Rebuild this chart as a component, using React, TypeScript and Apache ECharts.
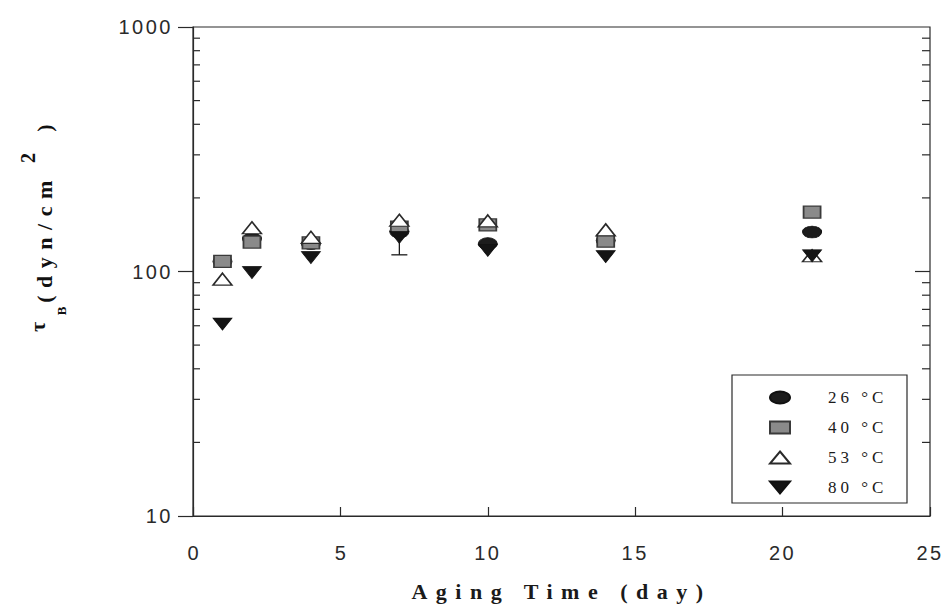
import React, { useEffect, useRef } from "react";
import * as echarts from "echarts";

// ---- data ----
const days = [1, 2, 4, 7, 10, 14, 21];
const tau26 = [110, 136, 130, 145, 130, 134, 145];
const tau40 = [110, 132, 131, 152, 155, 133, 175];
const tau53 = [93, 151, 138, 162, 161, 148, 116];
const tau80 = [61, 99, 114, 138, 122, 115, 116];
// error bar (80 °C, day 7): [day, value, lower]
const errorBars = [[7, 138, 117]];

const seriesNames = ["26 °C", "40 °C", "53 °C", "80 °C"];
const xMin = 0;
const xMax = 25;
const xInterval = 5;
const yMin = 10;
const yMax = 1000;
const minorTickValues = [20, 30, 40, 50, 60, 70, 80, 90, 200, 300, 400, 500, 600, 700, 800, 900];
const rightMajorValues = [100];

const ELLIPSE = "path://M0,6 A10,6 0 1,0 20,6 A10,6 0 1,0 0,6 Z";
const DOWN_TRI = "path://M0,0 L20,0 L10,12 Z";
const UP_TRI = "path://M10,0 L20,12 L0,12 Z";

const AXIS_COLOR = "#2a2a2a";

export default function App() {
  const ref = useRef<HTMLDivElement>(null);

  useEffect(() => {
    const el = ref.current!;
    document.body.style.margin = "0";
    const chart = echarts.init(el, undefined, { renderer: "svg" });

    const zip = (ys: number[]) => days.map((d, i) => [d, ys[i]]);

    const option: any = {
      animation: false,
      backgroundColor: "#ffffff",
      grid: {
        left: 193,
        top: 27,
        right: 18,
        bottom: 94,
        show: true,
        borderColor: AXIS_COLOR,
        borderWidth: 1.2,
        backgroundColor: "transparent",
      },
      xAxis: {
        type: "value",
        min: xMin,
        max: xMax,
        interval: xInterval,
        name: "Aging Time (day)",
        nameLocation: "middle",
        nameGap: 64,
        nameTextStyle: {
          fontFamily: "Liberation Serif",
          fontWeight: "bold",
          fontSize: 22,
          color: "#1a1a1a",
        },
        axisLine: { show: true, lineStyle: { color: AXIS_COLOR, width: 1.2 } },
        axisTick: { show: true, inside: true, length: 9, lineStyle: { color: AXIS_COLOR, width: 1.2 } },
        axisLabel: {
          margin: 27,
          fontFamily: "Liberation Sans",
          fontSize: 20,
          color: "#2a2a2a",
        },
        splitLine: { show: false },
      },
      yAxis: {
        type: "log",
        logBase: 10,
        min: yMin,
        max: yMax,
        axisLine: { show: true, lineStyle: { color: AXIS_COLOR, width: 1.2 } },
        axisTick: { show: true, inside: false, length: 15, lineStyle: { color: AXIS_COLOR, width: 1.2 } },
        minorTick: { show: false },
        axisLabel: {
          margin: 20,
          fontFamily: "Liberation Sans",
          fontSize: 20,
          color: "#2a2a2a",
          formatter: (v: number) => String(Math.round(v)),
        },
        splitLine: { show: false },
      },
      legend: {
        orient: "vertical",
        left: 769,
        top: 389,
        padding: 0,
        itemWidth: 20,
        itemHeight: 12,
        itemGap: 13,
        symbolKeepAspect: false,
        selectedMode: false,
        textStyle: {
          fontFamily: "Liberation Serif",
          fontSize: 17,
          color: "#1a1a1a",
          lineHeight: 16,
          padding: [0, 0, 0, 33],
        },
        data: [
          { name: seriesNames[0], icon: ELLIPSE },
          { name: seriesNames[1], icon: "rect" },
          { name: seriesNames[2], icon: UP_TRI },
          { name: seriesNames[3], icon: DOWN_TRI },
        ],
      },
      graphic: [
        {
          type: "rect",
          silent: true,
          shape: { x: 732, y: 375, width: 175, height: 128 },
          style: { fill: "none", stroke: AXIS_COLOR, lineWidth: 1.2 },
          z: 10,
        },
        {
          type: "text",
          x: 37,
          y: 327,
          rotation: Math.PI / 2,
          style: { text: "τ", fontFamily: "Liberation Serif", fontSize: 22, fontWeight: "bold", fill: "#111111", align: "center", verticalAlign: "middle" },
        },
        {
          type: "text",
          x: 61,
          y: 311,
          rotation: Math.PI / 2,
          style: { text: "B", fontFamily: "Liberation Serif", fontSize: 13, fontWeight: "bold", fill: "#111111", align: "center", verticalAlign: "middle" },
        },
        {
          type: "text",
          x: 44,
          y: 238,
          rotation: Math.PI / 2,
          style: { text: "(dyn/cm", fontFamily: "Liberation Serif", fontSize: 22, fontWeight: "bold", fill: "#111111", align: "center", verticalAlign: "middle" },
        },
        {
          type: "text",
          x: 28,
          y: 158,
          rotation: Math.PI / 2,
          style: { text: "2", fontFamily: "Liberation Serif", fontSize: 20, fontWeight: "bold", fill: "#111111", align: "center", verticalAlign: "middle" },
        },
        {
          type: "text",
          x: 44,
          y: 128,
          rotation: Math.PI / 2,
          style: { text: ")", fontFamily: "Liberation Serif", fontSize: 22, fontWeight: "bold", fill: "#111111", align: "center", verticalAlign: "middle" },
        },
      ],
      series: [
        {
          type: "custom",
          name: "minorTicks",
          silent: true,
          z: 1,
          data: minorTickValues.map((v) => [xMin, v]),
          renderItem: (params: any, api: any) => {
            const v = api.value(1);
            const pl = api.coord([xMin, v]);
            const pr = api.coord([xMax, v]);
            const st = { stroke: AXIS_COLOR, lineWidth: 1.2 };
            return {
              type: "group",
              children: [
                { type: "line", shape: { x1: pl[0], y1: pl[1], x2: pl[0] + 7, y2: pl[1] }, style: st },
                { type: "line", shape: { x1: pr[0], y1: pr[1], x2: pr[0] - 8, y2: pr[1] }, style: st },
              ],
            };
          },
        },
        {
          type: "custom",
          name: "rightMajor",
          silent: true,
          z: 1,
          data: rightMajorValues.map((v) => [xMax, v]),
          renderItem: (params: any, api: any) => {
            const v = api.value(1);
            const pr = api.coord([xMax, v]);
            return {
              type: "line",
              shape: { x1: pr[0], y1: pr[1], x2: pr[0] - 15, y2: pr[1] },
              style: { stroke: AXIS_COLOR, lineWidth: 1.2 },
            };
          },
        },
        {
          type: "custom",
          name: "errorBars",
          silent: true,
          z: 1,
          data: errorBars,
          renderItem: (params: any, api: any) => {
            const x = api.value(0);
            const p1 = api.coord([x, api.value(1)]);
            const p2 = api.coord([x, api.value(2)]);
            const st = { stroke: "#1a1a1a", lineWidth: 1.3 };
            return {
              type: "group",
              children: [
                { type: "line", shape: { x1: p1[0], y1: p1[1], x2: p2[0], y2: p2[1] }, style: st },
                { type: "line", shape: { x1: p2[0] - 8, y1: p2[1], x2: p2[0] + 8, y2: p2[1] }, style: st },
              ],
            };
          },
        },
        {
          type: "scatter",
          name: seriesNames[0],
          z: 2,
          symbol: ELLIPSE,
          symbolSize: [19, 12],
          itemStyle: { color: "#1c1c1c", borderColor: "#111", borderWidth: 0.8, opacity: 1 },
          data: zip(tau26),
        },
        {
          type: "scatter",
          name: seriesNames[1],
          z: 3,
          symbol: "rect",
          symbolSize: [17, 12],
          itemStyle: { color: "#8a8a8a", borderColor: "#3a3a3a", borderWidth: 1.5, opacity: 1 },
          data: zip(tau40),
        },
        {
          type: "scatter",
          name: seriesNames[2],
          z: 4,
          symbol: UP_TRI,
          symbolSize: [19, 12],
          itemStyle: { color: "#ffffff", borderColor: "#2a2a2a", borderWidth: 1.5, opacity: 1 },
          data: zip(tau53),
        },
        {
          type: "scatter",
          name: seriesNames[3],
          z: 5,
          symbol: DOWN_TRI,
          symbolSize: [19, 12],
          itemStyle: { color: "#141414", borderColor: "#111", borderWidth: 0.8, opacity: 1 },
          data: zip(tau80),
        },
      ],
    };

    chart.setOption(option);

    const applySpacing = () => {
      const texts = el.querySelectorAll("text");
      texts.forEach((t) => {
        const s = (t.textContent || "").trim();
        let ls = 0;
        if (s === "Aging Time (day)") ls = 8.5;
        else if (s === "(dyn/cm") ls = 7.5;
        else if (s.indexOf("°C") >= 0) ls = 4;
        else if (/^\d+$/.test(s) && s.length > 1) ls = 2.5;
        if (ls) t.setAttribute("letter-spacing", String(ls));
      });
    };
    chart.on("finished", applySpacing);
    const t1 = window.setTimeout(applySpacing, 30);
    const t2 = window.setTimeout(applySpacing, 200);

    return () => {
      window.clearTimeout(t1);
      window.clearTimeout(t2);
      chart.dispose();
    };
  }, []);

  return (
    <div
      ref={ref}
      style={{ position: "fixed", left: 0, top: 0, width: 948, height: 610, background: "#fff" }}
    />
  );
}
